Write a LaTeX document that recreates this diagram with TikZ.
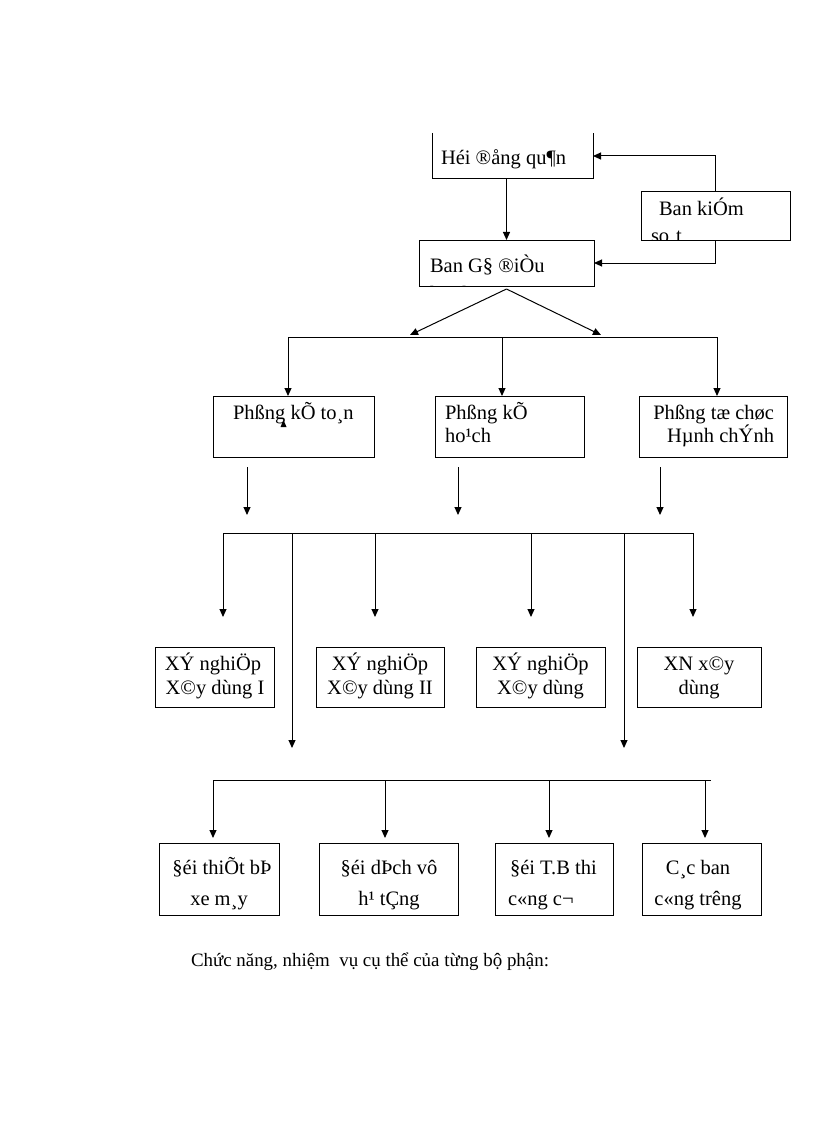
\documentclass[tikz,border=0pt]{standalone}
\usepackage{fontspec}
\setmainfont{Liberation Serif}
\usetikzlibrary{arrows.meta}
\begin{document}
\begin{tikzpicture}[x=1pt,y=-1pt,
  every node/.style={inner sep=0pt, outer sep=0pt},
  box/.style={draw, line width=1pt, rectangle},
  txt/.style={font=\fontsize{20.5}{24}\selectfont},
  captxt/.style={font=\fontsize{18.9}{22}\selectfont},
  arr/.style={line width=1pt, -{Triangle[length=8pt,width=7pt]}},
  ln/.style={line width=1pt}]
\useasboundingbox (0,0) rectangle (816,1123);

% ---------- top level ----------
\node[minimum width=161pt, minimum height=46pt] (hdq) at (512.5,156) {};
\draw[ln] (hdq.north west) -- (hdq.south west) -- (hdq.south east) -- (hdq.north east);
\node[txt, anchor=base west] (thdq) at (441,165) {Héi ®ång qu¶n};

\node[box, minimum width=149pt, minimum height=48pt] (bks) at (715.5,216) {};
\begin{scope}
  \clip (bks.south west) rectangle (bks.north east);
  \node[txt, anchor=base west] (tbks1) at (659,215) {Ban kiÓm};
  \node[txt, anchor=base west] (tbks2) at (651,242) {so¸t};
\end{scope}

\node[box, minimum width=175pt, minimum height=46pt] (bgd) at (506.5,263) {};
\begin{scope}
  \clip (bgd.south west) rectangle (bgd.north east);
  \node[txt, anchor=base west] (tbgd1) at (430,272) {Ban G§ ®iÒu};
  \node[txt, anchor=base west] (tbgd2) at (430,300) {hµnh};
\end{scope}

\draw[arr] (hdq.south -| bgd.north) -- (bgd.north);
\draw[arr] (bks.north) |- (hdq.east);
\draw[arr] (bks.south) |- (bgd.east);

\coordinate (al) at (410,335);
\coordinate (ar) at (601,335);
\draw[arr] ([yshift=-3pt]bgd.south) -- (al);
\draw[arr] ([yshift=-3pt]bgd.south) -- (ar);

% ---------- level 2 ----------
\node[box, minimum width=161pt, minimum height=61pt] (pkt) at (293.5,426.5) {};
\node[box, minimum width=149pt, minimum height=61pt] (pkh) at (509.5,426.5) {};
\node[box, minimum width=148pt, minimum height=61pt] (ptc) at (713,426.5) {};

\node[txt, anchor=base west] (tpkt) at (233,419) {Phßng kÕ to¸n};
\node[txt, anchor=base west] (tpkh1) at (445,419) {Phßng kÕ};
\node[txt, anchor=base west] (tpkh2) at (445,442) {ho¹ch};
\node[txt, anchor=base east] (tptc1) at (774,419) {Phßng tæ chøc};
\node[txt, anchor=base east] (tptc2) at (774,442) {Hµnh chÝnh};
\fill (280.5,427) -- (283.5,420) -- (286.5,427) -- cycle;

\coordinate (b1l) at (288,337);
\coordinate (b1m) at (502,337);
\coordinate (b1r) at (717,337);
\draw[ln] (b1l) -- (b1r);
\draw[arr] (b1l) -- (b1l |- pkt.north);
\draw[arr] (b1m) -- (b1m |- pkh.north);
\draw[arr] (b1r) -- (b1r |- ptc.north);

% short arrows below level 2
\coordinate (s1a) at (247,467); \coordinate (s1b) at (247,515);
\coordinate (s2a) at (458,467); \coordinate (s2b) at (458,515);
\coordinate (s3a) at (660,467); \coordinate (s3b) at (660,515);
\draw[arr] (s1a) -- (s1b);
\draw[arr] (s2a) -- (s2b);
\draw[arr] (s3a) -- (s3b);

% ---------- level 3 ----------
\coordinate (c1) at (223,533);
\coordinate (c2) at (292,533);
\coordinate (c3) at (375,533);
\coordinate (c4) at (531,533);
\coordinate (c5) at (624,533);
\coordinate (c6) at (693,533);
\draw[ln] (c1) -- (c6);
\coordinate (e1) at (223,617);
\coordinate (e2) at (292,748);
\coordinate (e3) at (375,617);
\coordinate (e4) at (531,617);
\coordinate (e5) at (624,748);
\coordinate (e6) at (693,617);
\draw[arr] (c1) -- (e1);
\draw[arr] (c2) -- (e2);
\draw[arr] (c3) -- (e3);
\draw[arr] (c4) -- (e4);
\draw[arr] (c5) -- (e5);
\draw[arr] (c6) -- (e6);

\node[box, minimum width=119pt, minimum height=60pt] (x1) at (214.5,677) {};
\node[box, minimum width=128pt, minimum height=60pt] (x2) at (380,677) {};
\node[box, minimum width=129pt, minimum height=60pt] (x3) at (540.5,677) {};
\node[box, minimum width=124pt, minimum height=60pt] (x4) at (699,677) {};

\node[txt, anchor=base] (tx11) at (213,670) {XÝ nghiÖp};
\node[txt, anchor=base] (tx12) at (215,694) {X©y dùng I};
\node[txt, anchor=base] (tx21) at (380,670) {XÝ nghiÖp};
\node[txt, anchor=base] (tx22) at (380,694) {X©y dùng II};
\node[txt, anchor=base] (tx31) at (540.5,670) {XÝ nghiÖp};
\node[txt, anchor=base] (tx32) at (540.5,694) {X©y dùng};
\node[txt, anchor=base] (tx41) at (699,670) {XN x©y};
\node[txt, anchor=base] (tx42) at (699,694) {dùng};

% ---------- level 4 ----------
\coordinate (d1) at (213,780);
\coordinate (d2) at (385,780);
\coordinate (d3) at (549,780);
\coordinate (d4) at (705,780);
\coordinate (dend) at (711,780);
\draw[ln] (d1) -- (dend);
\coordinate (f1) at (213,838);
\coordinate (f2) at (385,838);
\coordinate (f3) at (549,838);
\coordinate (f4) at (705,838);
\draw[arr] (d1) -- (f1);
\draw[arr] (d2) -- (f2);
\draw[arr] (d3) -- (f3);
\draw[arr] (d4) -- (f4);

\node[box, minimum width=120pt, minimum height=72pt] (y1) at (219,879) {};
\node[box, minimum width=139pt, minimum height=72pt] (y2) at (388.5,879) {};
\node[box, minimum width=118pt, minimum height=72pt] (y3) at (554,879) {};
\node[box, minimum width=119pt, minimum height=72pt] (y4) at (701.5,879) {};

\node[txt, anchor=base] (ty11) at (222,874) {§éi thiÕt bÞ};
\node[txt, anchor=base] (ty12) at (219,905) {xe m¸y};
\node[txt, anchor=base] (ty21) at (389,874) {§éi dÞch vô};
\node[txt, anchor=base] (ty22) at (389,905) {h¹ tÇng};
\node[txt, anchor=base west] (ty31) at (510,874) {§éi T.B thi};
\node[txt, anchor=base west] (ty32) at (508,905) {c«ng c¬};
\node[txt, anchor=base] (ty41) at (698,874) {C¸c ban};
\node[txt, anchor=base] (ty42) at (698,905) {c«ng trêng};

% ---------- caption ----------
\node[captxt, anchor=base west] (cap) at (191,966) {Chức năng, nhiệm\ \ vụ cụ thể của từng bộ phận:};
\end{tikzpicture}
\end{document}
